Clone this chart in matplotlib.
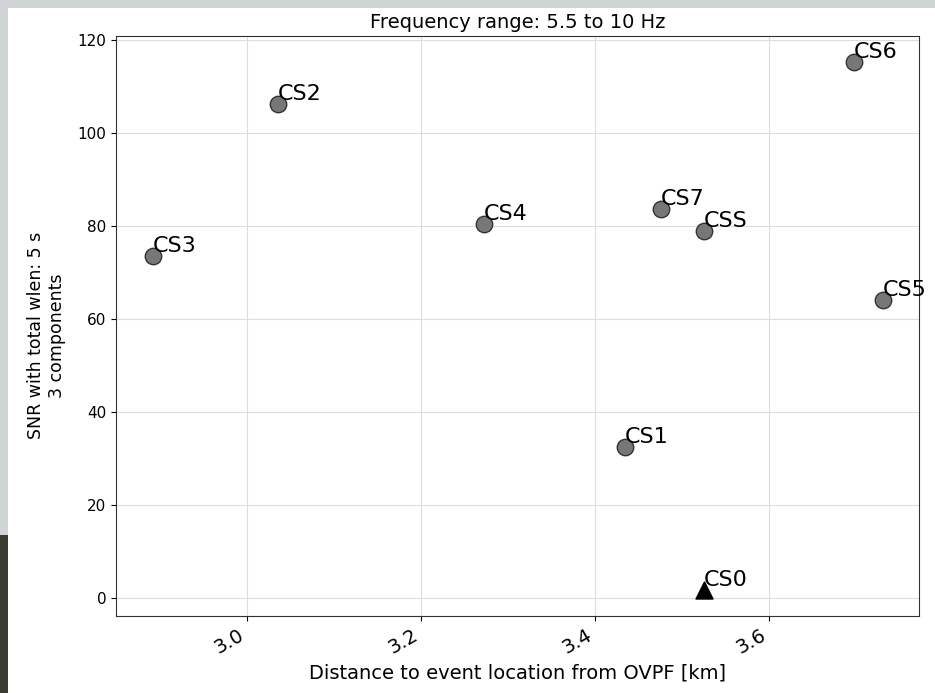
import matplotlib

matplotlib.use("Agg")
import matplotlib.pyplot as plt
from matplotlib.patches import Rectangle

# station distances [km] and SNR values
stations = ["CS3", "CS2", "CS4", "CS7", "CSS", "CS6", "CS5", "CS1"]
distance = [2.891, 3.035, 3.272, 3.475, 3.525, 3.697, 3.730, 3.434]
snr = [73.5, 106.1, 80.3, 83.5, 78.8, 115.1, 64.0, 32.3]

# reference station, drawn as a triangle
ref_station = "CS0"
ref_distance = 3.525
ref_snr = 1.7

fig = plt.figure(figsize=(9.35, 6.93), dpi=100, facecolor="#d0d4d4")
W, H = 935, 693
# white canvas, grey margin top/left and a dark strip bottom-left
fig.patches.append(Rectangle((8 / W, 0), 1 - 8 / W, 1 - 8 / H, transform=fig.transFigure,
                             facecolor="white", edgecolor="none", zorder=-10))
fig.patches.append(Rectangle((0, 0), 8 / W, 158 / H, transform=fig.transFigure,
                             facecolor="#3c3b31", edgecolor="none", zorder=-10))

ax = fig.add_axes([116 / W, 77 / H, 803 / W, 580 / H])
ax.grid(True, color="#dddddd", linewidth=0.8)
ax.set_axisbelow(True)
for sp in ax.spines.values():
    sp.set_color("#333333")

ax.scatter(distance, snr, s=140, facecolor="#777777", edgecolors="#333333", linewidths=1.0, zorder=3)
ax.scatter([ref_distance], [ref_snr], s=150, marker="^", color="black", zorder=3)

for name, x, y in zip(stations, distance, snr):
    ax.text(x, y, name, fontsize=16, va="bottom")
ax.text(ref_distance, ref_snr, ref_station, fontsize=16, va="bottom")

ax.set_xticks([3.0, 3.2, 3.4, 3.6])
ax.set_yticks([0, 20, 40, 60, 80, 100, 120])
ax.tick_params(axis="y", labelsize=11)
ax.tick_params(axis="x", labelsize=14)
for lab in ax.get_xticklabels():
    lab.set_rotation(30)
    lab.set_ha("right")

ax.set_xlabel("Distance to event location from OVPF [km]", fontsize=14)
ax.set_ylabel("SNR with total wlen: 5 s\n3 components", fontsize=12.5)
ax.yaxis.set_label_coords(-0.062, 0.483)
ax.set_title("Frequency range: 5.5 to 10 Hz", fontsize=14)

fig.savefig("out.png", dpi=100, facecolor=fig.get_facecolor())
